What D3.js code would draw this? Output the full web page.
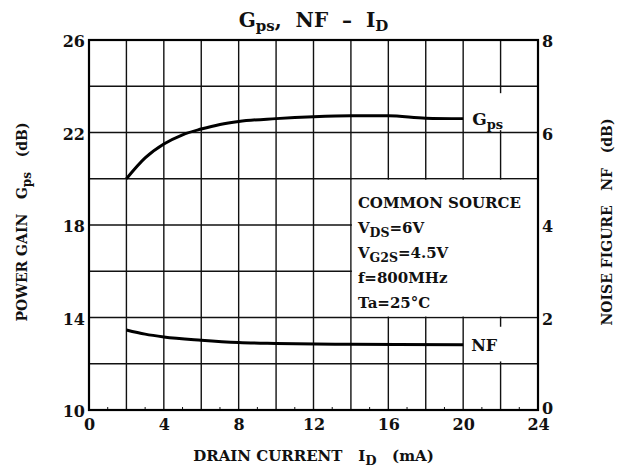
<!DOCTYPE html>
<html>
<head>
<meta charset="utf-8">
<script src="https://cdn.jsdelivr.net/npm/d3@7"></script>
<style>
  body { margin: 0; background: #fff; }
  svg text { font-family: "DejaVu Serif", "Liberation Serif", serif; font-weight: bold; fill: #111; }
</style>
</head>
<body>
<div id="chart"></div>
<script>
// drain current (mA) and the two curves
const gpsCurrent = [2, 3, 4, 5, 6, 7, 8, 10, 12, 14, 16, 18, 20];
const gpsValues = [20.0, 20.9, 21.5, 21.9, 22.15, 22.35, 22.48, 22.6, 22.68, 22.72, 22.72, 22.62, 22.6];
const nfCurrent = [2, 3, 4, 6, 8, 10, 14, 20];
const nfValues = [1.73, 1.64, 1.58, 1.51, 1.46, 1.44, 1.42, 1.41];

const xTicks = [0, 4, 8, 12, 16, 20, 24];
const leftTicks = [10, 14, 18, 22, 26];
const rightTicks = [0, 2, 4, 6, 8];
const conditions = ["COMMON SOURCE", ["V", "DS", "=6V"], ["V", "G2S", "=4.5V"], "f=800MHz", "Ta=25°C"];

const W = 629, H = 474;
const margin = { top: 40, right: 91, bottom: 64, left: 89 },
  width = W - margin.left - margin.right,
  height = H - margin.top - margin.bottom;

const svg = d3.select("#chart").append("svg")
  .attr("width", W)
  .attr("height", H);

const g = svg.append("g")
  .attr("transform", "translate(" + margin.left + "," + margin.top + ")");

const x = d3.scaleLinear().domain([0, 24]).range([0, width]);
const yL = d3.scaleLinear().domain([10, 26]).range([height, 0]);
const yR = d3.scaleLinear().domain([0, 8]).range([height, 0]);

// grid
const grid = g.append("g").attr("class", "grid");
grid.selectAll("line.v")
  .data(d3.range(2, 24, 2))
  .enter().append("line")
  .attr("x1", (d) => x(d)).attr("x2", (d) => x(d))
  .attr("y1", 0).attr("y2", height)
  .attr("stroke", "#111").attr("stroke-width", 1.4);
grid.selectAll("line.h")
  .data(d3.range(12, 26, 2))
  .enter().append("line")
  .attr("x1", 0).attr("x2", width)
  .attr("y1", (d) => yL(d)).attr("y2", (d) => yL(d))
  .attr("stroke", "#111").attr("stroke-width", 1.4);

// white box for the conditions (keeps its outer grid lines)
g.append("rect")
  .attr("x", x(14) + 1).attr("y", yL(20) + 1)
  .attr("width", x(24) - x(14) - 1).attr("height", yL(14) - yL(20) - 2)
  .attr("fill", "#fff");

// white patches behind the curve labels
g.append("rect")
  .attr("x", x(20) + 1).attr("y", yL(23.7))
  .attr("width", x(24) - x(20) - 2).attr("height", yL(22.1) - yL(23.7))
  .attr("fill", "#fff");
g.append("rect")
  .attr("x", x(20) + 1).attr("y", yR(1.8))
  .attr("width", x(24) - x(20) - 2).attr("height", yR(1.05) - yR(1.8))
  .attr("fill", "#fff");

// minor ticks on the bottom
g.selectAll("line.minor")
  .data(d3.range(1, 24, 2))
  .enter().append("line")
  .attr("x1", (d) => x(d)).attr("x2", (d) => x(d))
  .attr("y1", height).attr("y2", height - 3)
  .attr("stroke", "#111").attr("stroke-width", 1);

// frame
g.append("rect")
  .attr("width", width).attr("height", height)
  .attr("fill", "none").attr("stroke", "#000").attr("stroke-width", 2.2);

// axes (labels only)
const axisFont = (sel) => sel.selectAll("text").style("font-size", "16px").style("font-family", "DejaVu Serif, serif").style("font-weight", "bold").attr("fill", "#111");

g.append("g")
  .attr("transform", "translate(0," + height + ")")
  .call(d3.axisBottom(x).tickValues(xTicks).tickSize(0).tickPadding(9))
  .call((a) => a.select(".domain").remove())
  .call(axisFont);

g.append("g")
  .call(d3.axisLeft(yL).tickValues(leftTicks).tickSize(0).tickPadding(4))
  .call((a) => a.select(".domain").remove())
  .call(axisFont)
  .call((a) => a.selectAll("text").attr("dy", "0.42em"));

g.append("g")
  .attr("transform", "translate(" + width + ",0)")
  .call(d3.axisRight(yR).tickValues(rightTicks).tickSize(0).tickPadding(4))
  .call((a) => a.select(".domain").remove())
  .call(axisFont)
  .call((a) => a.selectAll("text").attr("dy", (d) => d === 0 ? "0.2em" : "0.42em"));

// curves
const gpsLine = d3.line()
  .x((d, i) => x(gpsCurrent[i]))
  .y((d) => yL(d))
  .curve(d3.curveMonotoneX);
const nfLine = d3.line()
  .x((d, i) => x(nfCurrent[i]))
  .y((d) => yR(d))
  .curve(d3.curveMonotoneX);

g.append("path")
  .attr("d", gpsLine(gpsValues))
  .attr("fill", "none").attr("stroke", "#000").attr("stroke-width", 3);
g.append("path")
  .attr("d", nfLine(nfValues))
  .attr("fill", "none").attr("stroke", "#000").attr("stroke-width", 3);

// curve labels
const gpsLabel = g.append("text")
  .attr("x", x(20) + 9).attr("y", yL(22.6) + 6)
  .style("font-size", "17px");
gpsLabel.append("tspan").text("G");
gpsLabel.append("tspan").attr("dy", 4).style("font-size", "13px").text("ps");

g.append("text")
  .attr("x", x(20) + 8).attr("y", yR(1.41) + 6)
  .style("font-size", "16px")
  .text("NF");

// conditions text
conditions.forEach((c, i) => {
  const t = g.append("text")
    .attr("x", x(14) + 7)
    .attr("y", yL(20) + 29 + i * 25)
    .style("font-size", "15px");
  if (typeof c === "string") {
    t.text(c);
  } else {
    t.append("tspan").text(c[0]);
    t.append("tspan").attr("dy", 4).style("font-size", "12.5px").text(c[1]);
    t.append("tspan").attr("dy", -4).text(c[2]);
  }
});

// title
const title = svg.append("text")
  .attr("x", margin.left + width / 2)
  .attr("y", 27)
  .attr("text-anchor", "middle")
  .attr("xml:space", "preserve")
  .style("font-size", "20px");
title.append("tspan").text("G");
title.append("tspan").attr("dy", 4).style("font-size", "15px").text("ps");
title.append("tspan").attr("dy", -4).text(",  NF  \u2013  I");
title.append("tspan").attr("dy", 4).style("font-size", "15px").text("D");

// x axis label
const xl = svg.append("text")
  .attr("x", margin.left + width / 2)
  .attr("y", 461)
  .attr("text-anchor", "middle")
  .style("font-size", "15px")
  .attr("xml:space", "preserve");
xl.append("tspan").text("DRAIN CURRENT   I");
xl.append("tspan").attr("dy", 4).style("font-size", "13px").text("D");
xl.append("tspan").attr("dy", -4).text("   (mA)");

// left y label
const ll = svg.append("text")
  .attr("transform", "translate(27,222) rotate(-90)")
  .attr("text-anchor", "middle")
  .style("font-size", "14px")
  .attr("xml:space", "preserve");
ll.append("tspan").text("POWER GAIN   G");
ll.append("tspan").attr("dy", 4).style("font-size", "12px").text("ps");
ll.append("tspan").attr("dy", -4).text("   (dB)");

// right y label
svg.append("text")
  .attr("transform", "translate(612,222) rotate(-90)")
  .attr("text-anchor", "middle")
  .style("font-size", "14px")
  .attr("xml:space", "preserve")
  .text("NOISE FIGURE   NF   (dB)");
</script>
</body>
</html>
